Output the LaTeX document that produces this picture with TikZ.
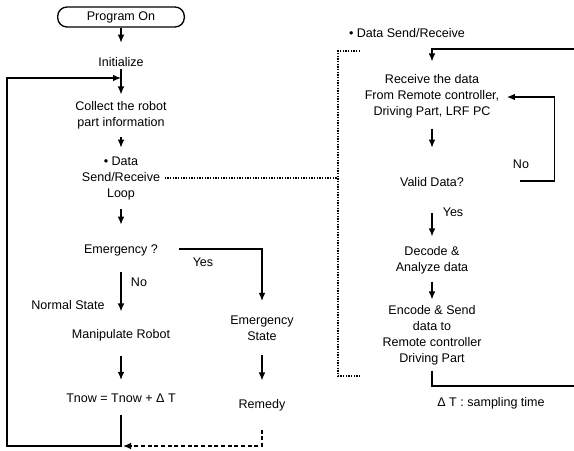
\documentclass[tikz,border=0pt]{standalone}
\usepackage{fontspec}
\setmainfont{Liberation Sans}
\usetikzlibrary{arrows.meta,calc,positioning}

\begin{document}
\begin{tikzpicture}[x=0.75pt,y=-0.75pt,>={Latex[length=6pt,width=5pt]},line width=1pt,
  txt/.style={inner sep=0pt,align=center,font=\fontsize{9.4}{12}\selectfont},
  terminal/.style={draw,rounded corners=7pt,minimum width=95pt,minimum height=15pt,inner sep=0pt,font=\fontsize{9.4}{12}\selectfont},
  sr/.style={densely dotted,line width=1pt},
  rem/.style={densely dashed,line width=1pt}]
  \useasboundingbox (0,0) rectangle (574,450);

  % main loop
  \node [terminal] (prog) at (121,17) {Program On};
  \node [txt] (init) at (121,62) {Initialize};
  \node [txt] (collect) at (121,115) {Collect the robot\\part information};
  \node [txt] (loopn) at (121,178) {• Data\\Send/Receive\\Loop};
  \node [txt] (emerg) at (121,250) {Emergency ?};
  \node [txt] (normal) at (68,305) {Normal State};
  \node [txt] (manip) at (121,335) {Manipulate Robot};
  \node [txt] (tnow) at (121,398) {Tnow = Tnow + Δ T};
  \node [txt] (estate) at (262,328) {Emergency\\State};
  \node [txt] (remedy) at (262,405) {Remedy};
  \node [txt] (yes1) at (203,262) {Yes};
  \node [txt] (no1) at (139,282) {No};

  % data send/receive
  \node [txt] (srtitle) at (407,33) {• Data Send/Receive};
  \node [txt] (recv) at (432,96) {Receive the data\\From Remote controller,\\Driving Part, LRF PC};
  \node [txt] (valid) at (432,182) {Valid Data?};
  \node [txt] (no2) at (521,164) {No};
  \node [txt] (yes2) at (453,212) {Yes};
  \node [txt] (decode) at (432,260) {Decode \&\\Analyze data};
  \node [txt] (encode) at (432,335) {Encode \& Send\\data to\\Remote controller\\Driving Part};
  \node [txt] (dt) at (491,403) {Δ T : sampling time};

  \coordinate (join) at (121,78);
  \coordinate (botc) at (121,446);
  \coordinate (botl) at (7,446);
  \coordinate (topl) at (7,78);
  \coordinate (brt) at (360,51);
  \coordinate (brtl) at (338,51);
  \coordinate (brbl) at (338,376);
  \coordinate (brb) at (360,376);
  \coordinate (rtop) at (574,49);
  \coordinate (rbot) at (574,386);

  \draw [->] (prog) -- ($(init.north)+(0,-14)$);
  \draw [->] ($(init.south)+(0,2)$) -- ($(collect.north)+(0,-6)$);
  \draw [->] ($(collect.south)+(0,7)$) -- ($(loopn.north)+(0,-8)$);
  \draw [->] ($(loopn.south)+(0,9)$) -- ($(emerg.north)+(0,-19)$);
  \draw [->] ($(emerg.south)+(0,16)$) -- ($(manip.north)+(0,-17)$);
  \draw [->] ($(emerg.east)+(20,-1)$) -| ($(estate.north)+(0,-14)$);
  \draw [->] ($(manip.south)+(0,14)$) -- ($(tnow.north)+(0,-13)$);
  \draw [->] ($(estate.south)+(0,14)$) -- ($(remedy.north)+(0,-18)$);
  \draw [->] ($(tnow.south)+(0,12)$) -- (botc) -- (botl) -- (topl) -- (join);
  \draw [rem,->] ($(remedy.south)+(0,18)$) -- (remedy.south |- botc) -- ($(botc)+(2,0)$);

  \draw [sr] ($(loopn.east)+(4,0)$) -- (loopn.east -| brtl);
  \draw [sr] (brt) -- (brtl) -- (brbl) -- (brb);

  \draw [->] (rtop) -| ($(recv.north)+(0,-12)$);
  \draw [->] ($(recv.south)+(0,10)$) -- ($(valid.north)+(0,-29)$);
  \draw [->] ($(valid.east)+(55,-1)$) -- ++(35,0) |- ($(recv.east)+(7,1)$);
  \draw [->] ($(valid.south)+(0,26)$) -- ($(decode.north)+(0,-9)$);
  \draw [->] ($(decode.south)+(0,7)$) -- ($(encode.north)+(0,-5)$);
  \draw ($(encode.south)+(0,5)$) |- (rbot);
\end{tikzpicture}
\end{document}
